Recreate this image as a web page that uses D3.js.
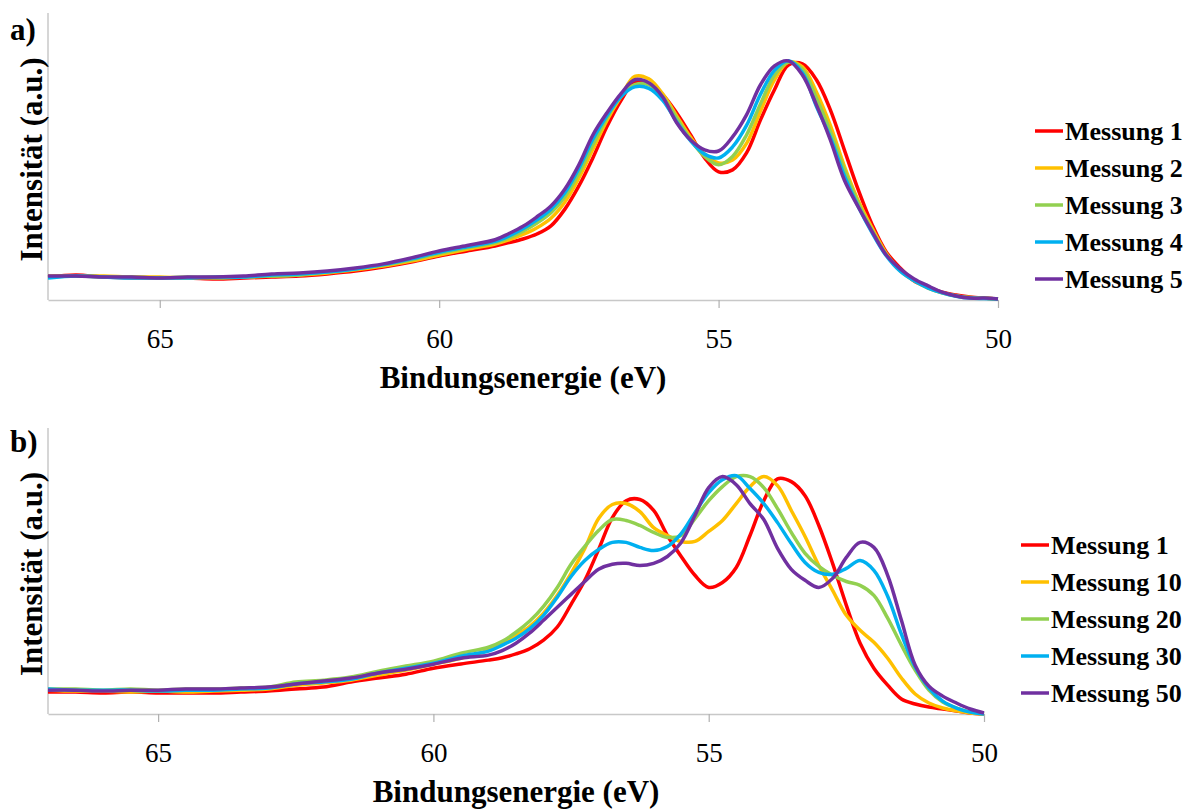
<!DOCTYPE html>
<html>
<head>
<meta charset="utf-8">
<script src="https://cdn.jsdelivr.net/npm/d3@7"></script>
<style>
  body { margin: 0; background: #fff; }
</style>
</head>
<body>
<svg id="chart" width="1194" height="809"></svg>
<script>
// Binding energy grid (eV), shared by all curves
const energies = [67, 66.5, 66, 65.5, 65, 64.5, 64, 63.5, 63, 62.5, 62, 61.5, 61, 60.5, 60, 59.5, 59,
  58.75, 58.5, 58.25, 58, 57.75, 57.5, 57.25, 57, 56.75, 56.5, 56.25, 56, 55.75, 55.5, 55.25, 55,
  54.75, 54.5, 54.25, 54, 53.75, 53.5, 53.25, 53, 52.75, 52.5, 52.25, 52, 51.75, 51.5, 51.25, 51,
  50.75, 50.5, 50.25, 50];

const xTicks = [65, 60, 55, 50];

// Panel a) - Messung 1..5
const labelsA = ["Messung 1", "Messung 2", "Messung 3", "Messung 4", "Messung 5"];
const a1 = [0.096,0.105,0.096,0.092,0.092,0.092,0.088,0.092,0.096,0.100,0.109,0.121,0.138,0.159,0.184,0.205,0.226,
  0.240,0.255,0.276,0.310,0.380,0.477,0.594,0.724,0.833,0.912,0.904,0.858,0.782,0.690,0.594,0.536,
  0.544,0.615,0.753,0.879,0.983,0.987,0.921,0.795,0.628,0.460,0.314,0.201,0.134,0.079,0.054,0.033,
  0.021,0.013,0.008,0.004];
const a2 = [0.100,0.100,0.100,0.096,0.096,0.092,0.096,0.096,0.100,0.105,0.113,0.126,0.142,0.163,0.188,0.212,0.234,
  0.252,0.274,0.302,0.342,0.410,0.510,0.630,0.750,0.850,0.935,0.925,0.862,0.770,0.680,0.610,0.573,
  0.585,0.655,0.790,0.920,0.995,0.975,0.870,0.730,0.560,0.415,0.300,0.195,0.122,0.080,0.050,0.030,
  0.017,0.010,0.008,0.004];
const a3 = [0.096,0.100,0.096,0.096,0.092,0.096,0.092,0.096,0.100,0.105,0.117,0.130,0.146,0.168,0.195,0.218,0.240,
  0.260,0.288,0.322,0.365,0.432,0.530,0.650,0.760,0.850,0.900,0.900,0.850,0.760,0.670,0.600,0.565,
  0.600,0.690,0.820,0.940,0.995,0.965,0.845,0.705,0.545,0.405,0.290,0.190,0.125,0.082,0.052,0.031,
  0.018,0.010,0.008,0.004];
const a4 = [0.092,0.100,0.096,0.092,0.092,0.092,0.096,0.096,0.105,0.109,0.117,0.130,0.148,0.172,0.200,0.222,0.245,
  0.268,0.298,0.335,0.380,0.448,0.550,0.672,0.770,0.850,0.891,0.885,0.835,0.745,0.665,0.610,0.594,
  0.640,0.730,0.860,0.960,1.000,0.950,0.810,0.680,0.520,0.390,0.280,0.185,0.120,0.080,0.050,0.030,
  0.016,0.008,0.006,0.004];
const a5 = [0.100,0.100,0.096,0.096,0.092,0.096,0.096,0.100,0.109,0.113,0.121,0.134,0.151,0.176,0.205,0.228,0.252,
  0.278,0.308,0.348,0.393,0.464,0.565,0.690,0.782,0.862,0.921,0.908,0.849,0.741,0.669,0.628,0.623,
  0.682,0.774,0.900,0.979,1.000,0.941,0.816,0.669,0.502,0.389,0.285,0.188,0.130,0.088,0.059,0.033,
  0.017,0.008,0.008,0.004];

// Panel b) - Messung 1, 10, 20, 30, 50
const labelsB = ["Messung 1", "Messung 10", "Messung 20", "Messung 30", "Messung 50"];
const b1 = [0.092,0.092,0.088,0.092,0.088,0.088,0.088,0.092,0.096,0.105,0.113,0.134,0.151,0.167,0.192,0.210,0.226,
  0.236,0.252,0.274,0.310,0.365,0.460,0.561,0.690,0.824,0.895,0.900,0.854,0.749,0.661,0.582,0.531,
  0.552,0.615,0.749,0.895,0.987,0.975,0.916,0.791,0.632,0.456,0.297,0.192,0.121,0.063,0.042,0.029,
  0.021,0.013,0.004,0.000];
const b10 = [0.100,0.096,0.096,0.092,0.096,0.092,0.096,0.100,0.105,0.121,0.130,0.142,0.163,0.184,0.209,0.234,0.268,
  0.295,0.330,0.368,0.423,0.498,0.590,0.695,0.820,0.879,0.883,0.849,0.782,0.749,0.724,0.724,0.766,
  0.812,0.883,0.954,0.996,0.958,0.854,0.745,0.623,0.519,0.414,0.351,0.301,0.234,0.151,0.084,0.046,
  0.025,0.013,0.004,0.000];
const b20 = [0.105,0.105,0.100,0.105,0.100,0.105,0.105,0.109,0.113,0.134,0.142,0.155,0.180,0.201,0.222,0.255,0.280,
  0.305,0.343,0.390,0.452,0.531,0.628,0.703,0.770,0.816,0.812,0.791,0.762,0.741,0.749,0.820,0.895,
  0.954,0.996,0.996,0.950,0.862,0.762,0.674,0.619,0.582,0.556,0.540,0.498,0.402,0.289,0.184,0.100,
  0.050,0.025,0.008,0.000];
const b30 = [0.105,0.100,0.100,0.100,0.096,0.100,0.100,0.105,0.109,0.126,0.134,0.146,0.172,0.192,0.213,0.243,0.264,
  0.289,0.318,0.358,0.414,0.490,0.577,0.644,0.690,0.720,0.720,0.699,0.686,0.703,0.757,0.845,0.929,
  0.983,1.000,0.946,0.883,0.803,0.715,0.636,0.594,0.586,0.611,0.644,0.603,0.494,0.335,0.197,0.109,
  0.054,0.025,0.008,0.000];
const b50 = [0.100,0.100,0.096,0.100,0.100,0.105,0.105,0.109,0.113,0.126,0.138,0.151,0.172,0.188,0.209,0.234,0.247,
  0.266,0.297,0.340,0.393,0.448,0.502,0.556,0.607,0.628,0.632,0.623,0.632,0.661,0.720,0.833,0.950,
  0.996,0.962,0.883,0.816,0.695,0.607,0.561,0.531,0.569,0.657,0.720,0.699,0.582,0.393,0.205,0.117,
  0.075,0.046,0.021,0.004];

const colors = ["#ff0000", "#ffc000", "#92d050", "#00b0f0", "#7030a0"];
const FONT = "Liberation Serif";

const svg = d3.select("#chart").attr("font-family", FONT);

const drawPanel = (cfg) => {
  const x = d3.scaleLinear().domain([67, 50]).range([cfg.left, cfg.right]);
  const y = d3.scaleLinear().domain([0, 1.2]).range([cfg.bottom, cfg.top]);
  const g = svg.append("g");

  // axis lines
  g.append("line")
    .attr("x1", cfg.left).attr("x2", cfg.left)
    .attr("y1", cfg.top).attr("y2", cfg.bottom)
    .attr("stroke", "#c8c8c8").attr("stroke-width", 1.5);

  const xAxis = g.append("g")
    .attr("transform", `translate(0,${cfg.bottom})`)
    .call(d3.axisBottom(x).tickValues(xTicks).tickSize(8).tickSizeOuter(0).tickFormat(d3.format("d")));
  xAxis.attr("font-family", FONT);
  xAxis.select(".domain").attr("stroke", "#c8c8c8").attr("stroke-width", 1.5);
  xAxis.selectAll(".tick line").attr("stroke", "#b0b0b0").attr("stroke-width", 1.2);
  xAxis.selectAll(".tick text")
    .attr("y", 48).attr("dy", 0)
    .attr("font-family", FONT)
    .attr("font-size", 27).attr("fill", "#000");

  // curves
  const line = d3.line()
    .x((d, i) => x(energies[i]))
    .y(d => y(d))
    .curve(d3.curveCatmullRom.alpha(0.5));

  cfg.series.forEach((s, i) => {
    g.append("path")
      .datum(s)
      .attr("d", line)
      .attr("fill", "none")
      .attr("stroke", colors[i])
      .attr("stroke-width", 3.5)
      .attr("stroke-linejoin", "round");
  });

  // axis titles
  g.append("text")
    .attr("x", cfg.titleX).attr("y", cfg.bottom + 88)
    .attr("text-anchor", "middle")
    .attr("font-family", FONT)
    .attr("font-size", 31).attr("font-weight", "bold")
    .text("Bindungsenergie (eV)");

  g.append("text")
    .attr("transform", `translate(42,${(cfg.top + cfg.bottom) / 2 + 3}) rotate(-90)`)
    .attr("text-anchor", "middle")
    .attr("font-family", FONT)
    .attr("font-size", 31).attr("font-weight", "bold")
    .text("Intensität (a.u.)");

  // panel tag
  g.append("text")
    .attr("x", 10).attr("y", cfg.tagY)
    .attr("font-family", FONT)
    .attr("font-size", 31).attr("font-weight", "bold")
    .text(cfg.tag);

  // legend
  const legend = g.append("g")
    .attr("transform", `translate(${cfg.legendX},${cfg.legendY})`);
  const items = legend.selectAll("g")
    .data(cfg.labels)
    .enter()
    .append("g")
    .attr("transform", (d, i) => `translate(0,${i * 37})`);
  items.append("line")
    .attr("x1", 0).attr("x2", 28)
    .attr("stroke", (d, i) => colors[i])
    .attr("stroke-width", 3.5);
  items.append("text")
    .attr("x", 30).attr("dy", "0.33em")
    .attr("font-family", FONT)
    .attr("font-size", 26).attr("font-weight", "bold")
    .text(d => d);
};

drawPanel({
  left: 48, right: 998, top: 13, bottom: 300,
  series: [a1, a2, a3, a4, a5], labels: labelsA,
  legendX: 1035, legendY: 131, titleX: 523, tag: "a)", tagY: 40
});

drawPanel({
  left: 48, right: 984, top: 428, bottom: 714,
  series: [b1, b10, b20, b30, b50], labels: labelsB,
  legendX: 1021, legendY: 545, titleX: 516, tag: "b)", tagY: 452
});
</script>
</body>
</html>
